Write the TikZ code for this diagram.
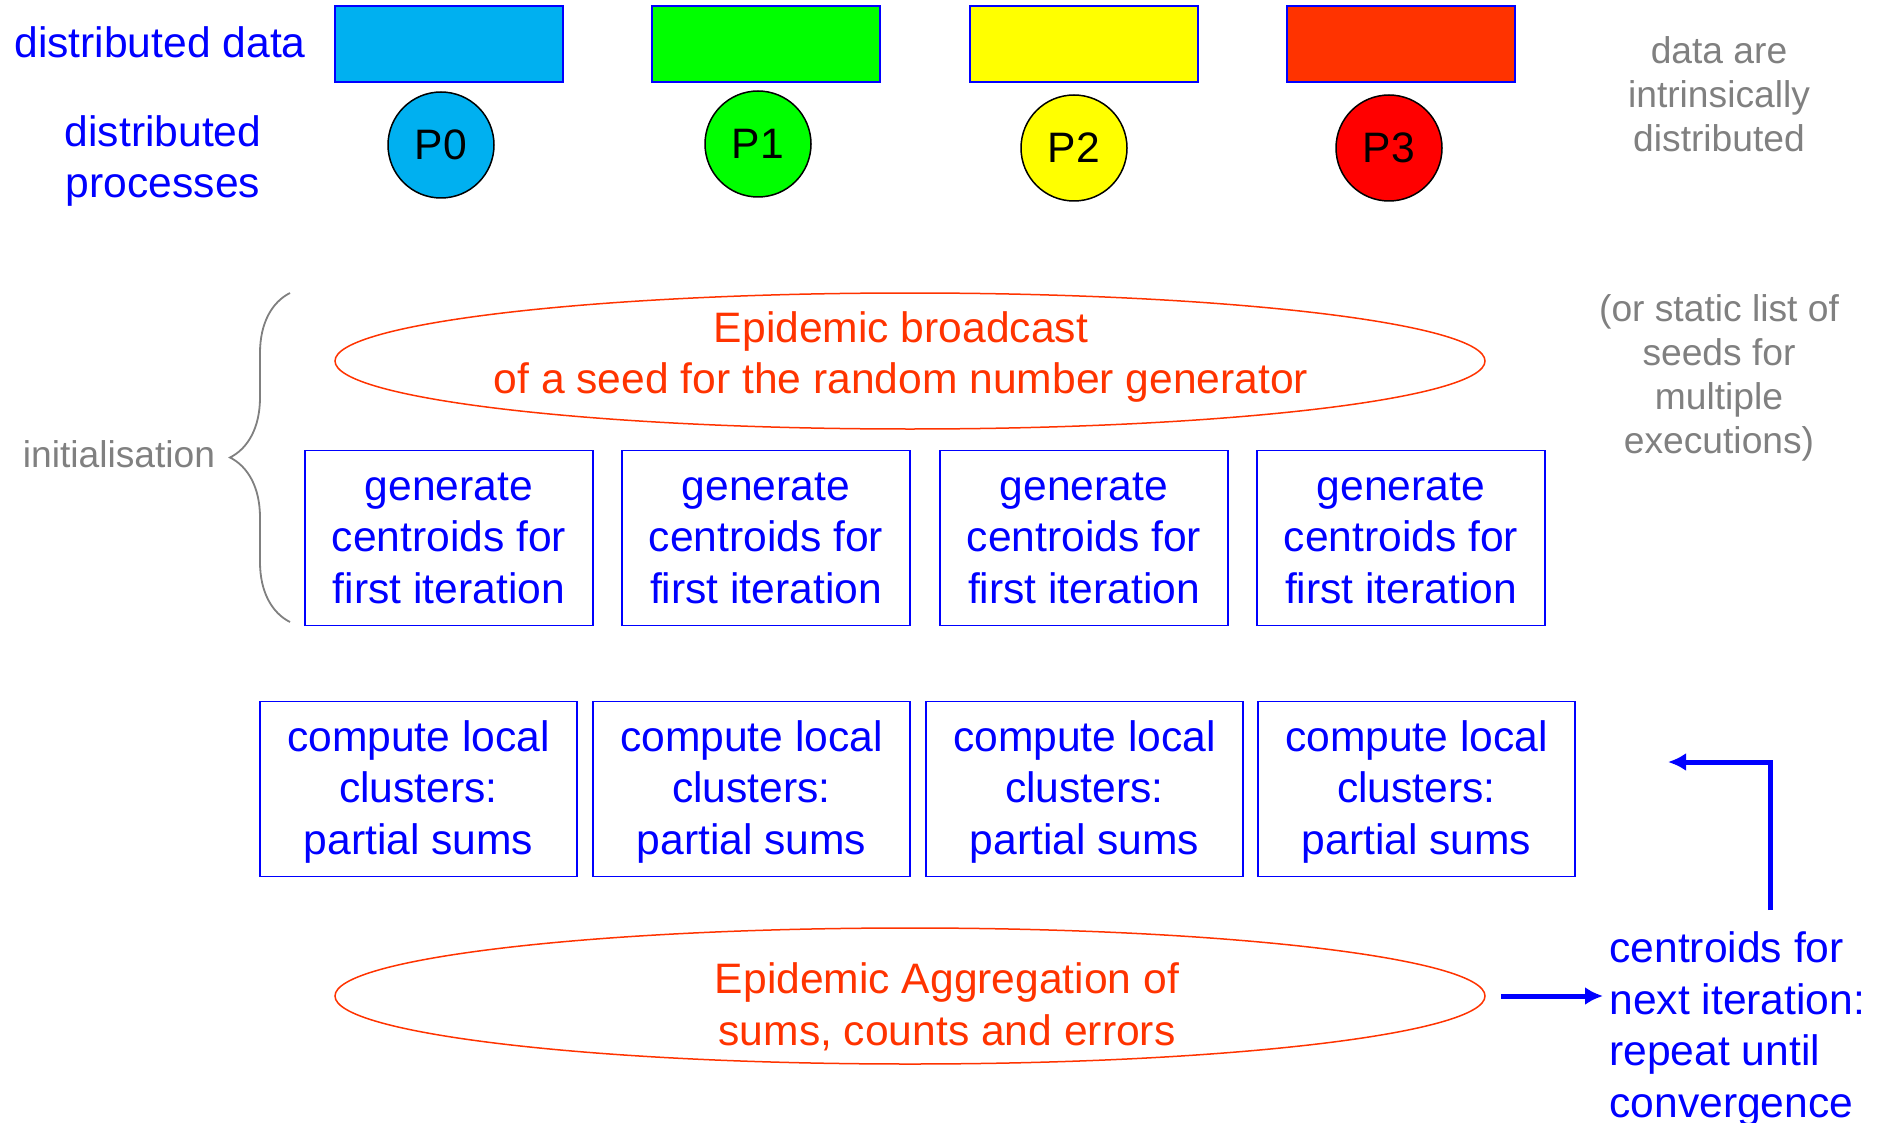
\documentclass[tikz,border=0pt]{standalone}
\usepackage{fontspec}
\setmainfont{Liberation Sans}
\usetikzlibrary{arrows.meta, shapes.geometric, decorations.pathreplacing}
\definecolor{procblue}{RGB}{0,176,240}
\definecolor{procgreen}{RGB}{0,255,0}
\definecolor{procyellow}{RGB}{255,255,0}
\definecolor{procred}{RGB}{255,0,0}
\definecolor{datared}{RGB}{255,51,0}
\definecolor{epired}{RGB}{255,51,0}
\definecolor{notegray}{RGB}{128,128,128}
\begin{document}
\begin{tikzpicture}[x=0.5pt, y=-0.5pt,
		>={Latex[length=9pt,width=9pt]},   %Pfeilspitzen
		bigtext/.style={font=\fontsize{21.3}{25.8}\selectfont},
		note/.style={text=notegray, align=center, inner sep=0pt, font=\fontsize{18.6}{22}\selectfont},
		datarect/.style={draw=blue, line width=1pt, minimum width=113.75pt, minimum height=37.75pt, inner sep=0pt},
		proc/.style={circle, draw=black, line width=0.75pt, minimum size=53pt, inner sep=0pt, bigtext},
		taskbox/.style={draw=blue, line width=0.9pt, minimum height=87.5pt, inner sep=0pt, text height=68.1pt, text depth=2.9pt, text=blue, align=center, bigtext},
		epidemic/.style={ellipse, draw=epired, line width=0.75pt, minimum width=575pt, minimum height=68pt, inner sep=0pt},
		flow/.style={->, draw=blue, line width=2.5pt}]
		%Bildbereich
		\useasboundingbox (0,0) rectangle (1878,1123);
		% Beschriftungen links und rechts
		\node[bigtext, text=blue, inner sep=0pt] (ddata) at (160,42) {distributed data};
		\node[bigtext, text=blue, align=center, inner sep=0pt] (dproc) at (163,161) {distributed\\processes};
		\node[note] (intrinsic) at (1719,94) {data are\\intrinsically\\distributed};
		\node[note] (seeds) at (1719,378) {(or static list of\\seeds for\\multiple\\executions)};
		% Daten und Prozesse
		\foreach \i/\x/\px/\py/\col/\dcol in {0/449/441/145/procblue/procblue, 1/766/758/144/procgreen/procgreen, 2/1084/1074/148/procyellow/procyellow, 3/1401/1389/148/procred/datared} {
			\node[datarect, fill=\dcol] (data\i) at (\x,44) {};
			\node[proc, fill=\col] (p\i) at (\px,\py) {P\i};
		}
		% Initialisierung
		\node[epidemic] (bcast) at (910,361) {};
		\node[bigtext, text=epired, align=center, inner sep=0pt] (bcasttext) at (901,357) {Epidemic broadcast\\of a seed for the random number generator};
		\foreach \i/\x in {0/449,1/766,2/1084,3/1401}
			\node[taskbox, minimum width=143.75pt] (gen\i) at (\x,538) {generate\\centroids for\\first iteration};
		\draw[notegray, line width=0.9pt, decorate, decoration={brace, amplitude=30pt}] (290,622) -- (290,293);
		\node[note] (init) at (119,454) {initialisation};
		% Iteration
		\foreach \i/\x in {0/418.5,1/751.5,2/1084.5,3/1416.5}
			\node[taskbox, minimum width=158.5pt] (comp\i) at (\x,789) {compute local\\clusters:\\partial sums};
		\node[epidemic] (aggr) at (910,996) {};
		\node[bigtext, text=epired, align=center, inner sep=0pt] (aggrtext) at (947,1007) {Epidemic Aggregation of\\sums, counts and errors};
		% Rueckkopplung
		\node[bigtext, text=blue, align=left, inner sep=0pt, anchor=west] (next) at (1609,1029) {centroids for\\next iteration:\\repeat until\\convergence};
		\draw[flow] ([xshift=7.5pt]aggr.east) -- ([xshift=-3pt]aggr.east -| next.west);
		\coordinate (loopstart) at (1770,910);
		\coordinate (loopend) at (1668,762);
		\draw[flow] (loopstart) |- (loopend);
	\end{tikzpicture}
\end{document}
